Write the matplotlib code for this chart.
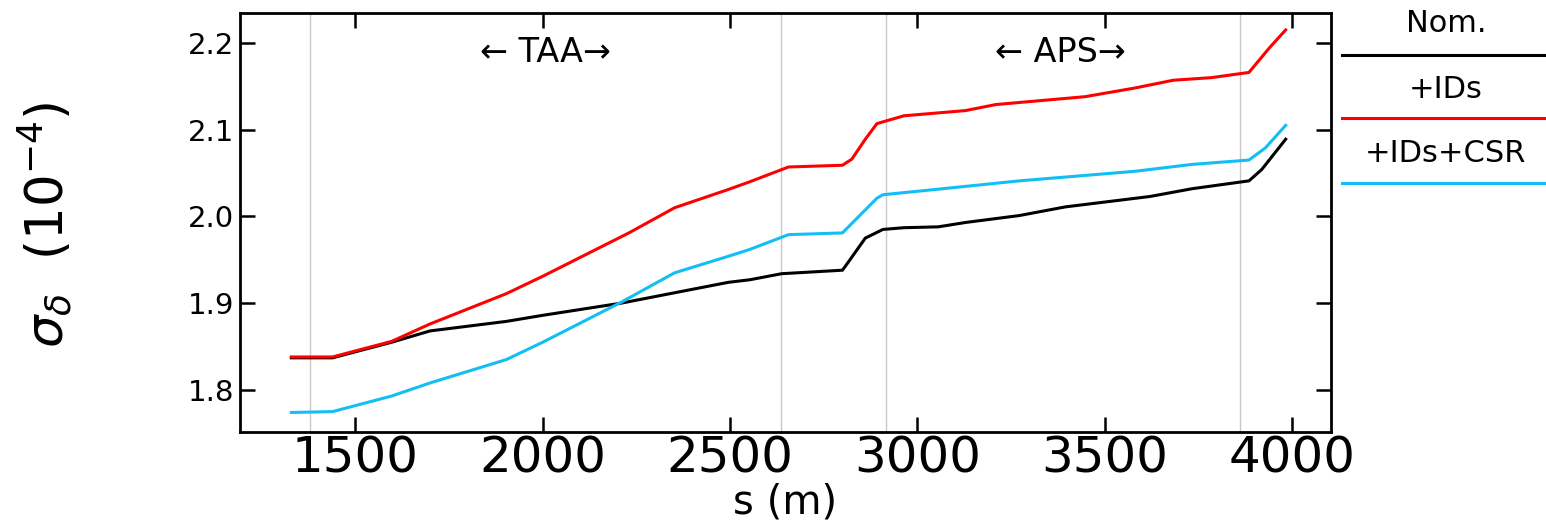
import matplotlib
matplotlib.use('Agg')
import matplotlib.pyplot as plt
from matplotlib.lines import Line2D

plt.rcParams['font.family'] = ['DejaVu Sans']
plt.rcParams['mathtext.fontset'] = 'dejavusans'

# Données (s en m, sigma_delta en 1e-4)
s_nom = [1329, 1439, 1597, 1699, 1903, 2000, 2209, 2352, 2495, 2553, 2638, 2800, 2820,
         2861, 2908, 2964, 3056, 3128, 3272, 3395, 3621, 3734, 3885, 3919, 3983]
sig_nom = [1.837, 1.837, 1.855, 1.868, 1.879, 1.886, 1.900, 1.912, 1.924, 1.927, 1.934,
           1.938, 1.950, 1.975, 1.985, 1.987, 1.988, 1.993, 2.001, 2.011, 2.023, 2.032,
           2.041, 2.054, 2.089]

s_ids = [1329, 1439, 1597, 1699, 1903, 2000, 2230, 2352, 2495, 2553, 2656, 2800, 2825,
         2861, 2892, 2964, 3128, 3210, 3447, 3580, 3683, 3785, 3885, 3939, 3983]
sig_ids = [1.838, 1.838, 1.856, 1.876, 1.911, 1.931, 1.981, 2.010, 2.031, 2.040, 2.057,
           2.059, 2.066, 2.089, 2.107, 2.116, 2.122, 2.129, 2.138, 2.148, 2.157, 2.160,
           2.166, 2.194, 2.215]

s_csr = [1329, 1439, 1597, 1699, 1903, 2000, 2209, 2352, 2495, 2553, 2656, 2800, 2892,
         2908, 3046, 3272, 3580, 3734, 3885, 3929, 3983]
sig_csr = [1.774, 1.775, 1.793, 1.808, 1.835, 1.855, 1.901, 1.935, 1.954, 1.962, 1.979,
           1.981, 2.021, 2.025, 2.031, 2.041, 2.052, 2.060, 2.065, 2.079, 2.105]

# Lignes verticales grises (limites des sections)
s_sep = [1380, 2637, 2917, 3862]

xticks = [1500, 2000, 2500, 3000, 3500, 4000]
yticks = [1.8, 1.9, 2.0, 2.1, 2.2]
legende = ['Nom.', '+IDs', '+IDs+CSR']
couleurs = ['black', 'red', '#12bff5']

W, H = 1546, 521
fig = plt.figure(figsize=(W/100, H/100), dpi=100)
ax = fig.add_axes([240/W, 1-432/H, (1331-240)/W, (432-13)/H])

for xs in s_sep:
    ax.axvline(xs, color='#c8c8c8', lw=1.0, zorder=1)

ax.plot(s_nom, sig_nom, color=couleurs[0], lw=2.2, zorder=3)
ax.plot(s_ids, sig_ids, color=couleurs[1], lw=2.2, zorder=4)
ax.plot(s_csr, sig_csr, color=couleurs[2], lw=2.2, zorder=5)

ax.set_xlim(1192, 4104)
ax.set_ylim(1.7515, 2.2345)
ax.set_xticks(xticks)
ax.set_yticks(yticks)
ax.set_yticklabels(['%.1f' % v for v in yticks])
ax.tick_params(direction='in', length=11, width=1.8, top=True, right=True)
ax.tick_params(axis='x', labelsize=36, pad=2)
ax.tick_params(axis='y', labelsize=21, pad=4)
for sp in ax.spines.values():
    sp.set_linewidth(2)

ax.text(2007, 2.189, '← TAA→', fontsize=24, ha='center', va='center')
ax.text(3381, 2.189, '← APS→', fontsize=24, ha='center', va='center')

ax.set_xlabel('s (m)', fontsize=29)
ax.xaxis.set_label_coords(0.5, -0.12)

fig.text(45/W, 1-225/H, r'$\sigma_\delta$  (10$^{-4}$)', fontsize=37,
         rotation=90, ha='center', va='center')

# Légende à droite, hors du cadre
y_txt = [24, 90, 154]
y_lig = [55, 118, 183]
for nom, c, yt, yl in zip(legende, couleurs, y_txt, y_lig):
    fig.text(1446/W, 1-yt/H, nom, fontsize=22, ha='center', va='center')
    fig.add_artist(Line2D([1342/W, 1.0], [1-yl/H, 1-yl/H], color=c, lw=2.2,
                          transform=fig.transFigure))

fig.savefig('out.png', dpi=100)
